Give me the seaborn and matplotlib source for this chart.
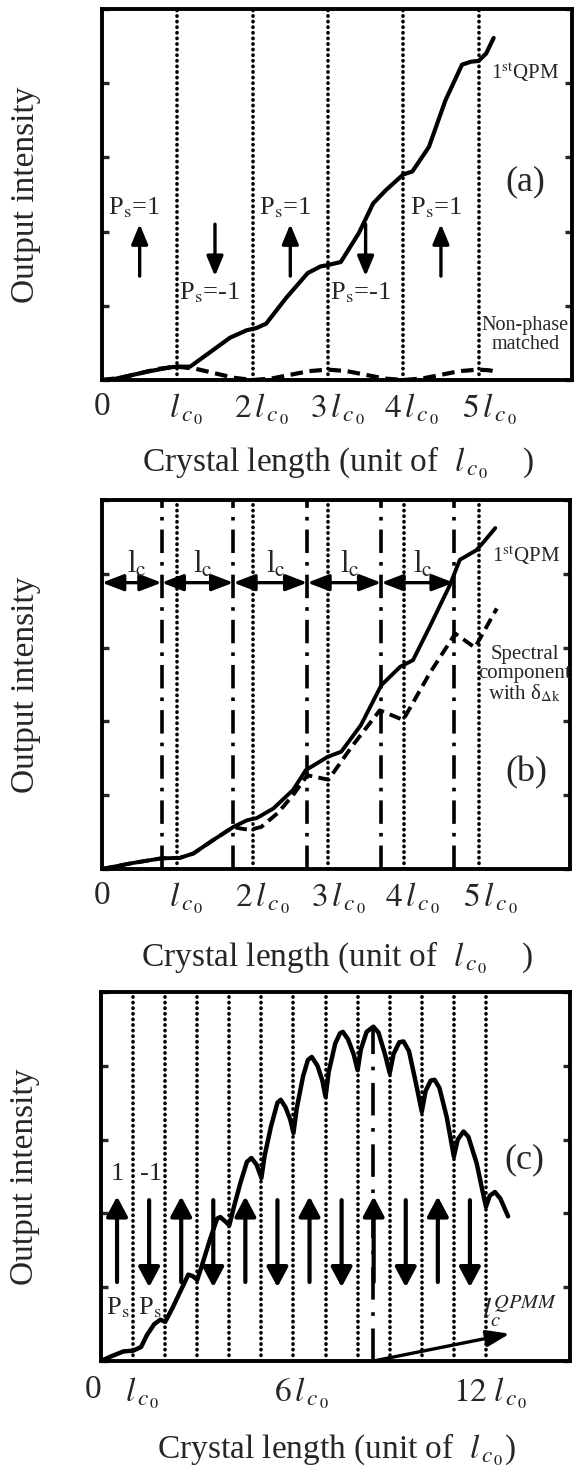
import matplotlib
matplotlib.use('Agg')

import numpy as np
import pandas as pd
import matplotlib.pyplot as plt
import seaborn as sns

# ----------------------------------------------------------------------
# style
# ----------------------------------------------------------------------
sns.set_style('white')
plt.rcParams['font.family'] = ['Liberation Serif', 'DejaVu Serif']
plt.rcParams['mathtext.fontset'] = 'stix'

# ----------------------------------------------------------------------
# data, x in units of l_c0, y in (unlabelled) tick units
# ----------------------------------------------------------------------

# (a) first order QPM vs non phase matched
a_x = [0, 0.15, 0.59, 0.9, 1.0, 1.17, 1.47, 1.70, 1.92, 2.05, 2.18, 2.44, 2.73, 2.9,
       3.0, 3.17, 3.41, 3.6, 3.77, 4.0, 4.12, 4.34, 4.56, 4.78, 4.9, 5.0, 5.1, 5.2]
a_qpm = [0, 0.01, 0.11, 0.17, 0.18, 0.18, 0.40, 0.57, 0.67, 0.70, 0.76, 1.10, 1.44, 1.53,
         1.55, 1.59, 1.98, 2.38, 2.56, 2.77, 2.81, 3.14, 3.77, 4.25, 4.29, 4.30, 4.40, 4.61]
a_npm_x = [0, 0.25, 0.5, 0.75, 1.0, 1.25, 1.5, 1.75, 2.0, 2.25, 2.5, 2.75, 3.0, 3.25,
           3.5, 3.75, 4.0, 4.25, 4.5, 4.75, 5.0, 5.15, 5.23]
a_npm = [0, 0.03, 0.09, 0.15, 0.18, 0.15, 0.09, 0.03, 0, 0.02, 0.07, 0.12, 0.14, 0.12,
         0.07, 0.02, 0, 0.02, 0.07, 0.12, 0.14, 0.13, 0.11]
a_walls = [1, 2, 3, 4, 5]
a_ps = [1, -1, 1, -1, 1]

# (b) QPM vs spectral component with delta_k
b_x = [0, 0.15, 0.4, 0.79, 1.03, 1.21, 1.47, 1.74, 1.92, 2.05, 2.27, 2.53, 2.70, 2.99,
       3.17, 3.43, 3.70, 3.95, 4.12, 4.34, 4.61, 4.74, 4.96, 5.08, 5.21]
b_qpm = [0, 0.03, 0.08, 0.145, 0.15, 0.21, 0.39, 0.57, 0.66, 0.69, 0.82, 1.07, 1.34, 1.52,
         1.59, 1.95, 2.49, 2.74, 2.83, 3.28, 3.85, 4.19, 4.32, 4.46, 4.62]
b_delta_x = [0, 0.15, 0.4, 0.79, 1.03, 1.21, 1.47, 1.74, 1.83, 1.96, 2.11, 2.33, 2.53,
             2.72, 3.0, 3.31, 3.68, 3.99, 4.34, 4.68, 4.94, 5.23]
b_delta = [0, 0.03, 0.08, 0.145, 0.15, 0.21, 0.39, 0.57, 0.55, 0.53, 0.57, 0.76, 1.0,
           1.27, 1.21, 1.66, 2.15, 2.02, 2.65, 3.19, 3.00, 3.53]
b_walls = [1, 2, 3, 4, 5]
b_lc = [0.79, 1.74, 2.72, 3.70, 4.66]

# (c) quasi phase mismatched
c_x = [0, 0.3, 0.7, 1.0, 1.25, 1.43, 1.66, 1.85, 2.0, 2.23, 2.47, 2.72, 2.86, 3.0,
       3.15, 3.4, 3.62, 3.72, 3.85, 4.0, 4.15, 4.35, 4.55, 4.69, 4.85, 5.0, 5.1, 5.3,
       5.5, 5.6, 5.75, 5.9, 6.0, 6.1, 6.3, 6.45, 6.57, 6.75, 6.9, 7.0, 7.1, 7.3, 7.45,
       7.54, 7.7, 7.88, 8.0, 8.1, 8.28, 8.49, 8.65, 8.85, 9.0, 9.12, 9.3, 9.43, 9.6,
       9.8, 10.0, 10.12, 10.28, 10.4, 10.55, 10.78, 11.0, 11.12, 11.3, 11.45, 11.71,
       11.88, 12.0, 12.12, 12.28, 12.45, 12.69]
c_y = [0, 0.06, 0.13, 0.14, 0.19, 0.35, 0.50, 0.56, 0.53, 0.72, 0.94, 1.17, 1.15, 1.10,
       1.30, 1.65, 1.93, 1.95, 1.90, 1.84, 2.10, 2.42, 2.70, 2.75, 2.66, 2.48, 2.78, 3.18,
       3.50, 3.54, 3.44, 3.27, 3.09, 3.42, 3.86, 4.08, 4.12, 4.00, 3.80, 3.58, 3.92, 4.30,
       4.44, 4.46, 4.36, 4.15, 3.94, 4.22, 4.46, 4.53, 4.45, 4.16, 3.90, 4.16, 4.32,
       4.33, 4.20, 3.80, 3.38, 3.66, 3.80, 3.81, 3.70, 3.30, 2.77, 3.00, 3.11, 3.04,
       2.68, 2.33, 2.09, 2.24, 2.29, 2.20, 1.96]
c_walls = [1, 2, 3, 4, 5, 6, 7, 8, 9, 10, 11, 12]
c_ps = [1, -1, 1, -1, 1, -1, 1, -1, 1, -1, 1, -1]
lc_qpmm = 8.49

df_a = pd.DataFrame({'x': a_x, 'y': a_qpm})
df_a2 = pd.DataFrame({'x': a_npm_x, 'y': a_npm})
df_b = pd.DataFrame({'x': b_x, 'y': b_qpm})
df_b2 = pd.DataFrame({'x': b_delta_x, 'y': b_delta})
df_c = pd.DataFrame({'x': c_x, 'y': c_y})

# ----------------------------------------------------------------------
# figure
# ----------------------------------------------------------------------
W, H = 575, 1471
fig = plt.figure(figsize=(W / 100, H / 100), dpi=100)
ax_a = fig.add_axes([102 / W, 1 - 380 / H, 470 / W, 371 / H])
ax_b = fig.add_axes([102 / W, 1 - 869 / H, 468 / W, 369 / H])
ax_c = fig.add_axes([101 / W, 1 - 1361 / H, 469 / W, 369 / H])

dotted = dict(color='black', lw=2.6, ls=(0, (0.1, 1.45)), dash_capstyle='round')
curve = dict(color='black', sort=False, estimator=None,
             solid_joinstyle='round', solid_capstyle='round')
lsub = '$l_{\\,c_{\\,0}}$'
xl_text = 'Crystal length (unit of  ' + lsub + '    )'


def frame(ax, xmax):
    ax.set_xlim(0, xmax)
    ax.set_ylim(0, 5)
    for sp in ax.spines.values():
        sp.set_linewidth(2.8)
        sp.set_color('black')
    ax.set_yticks([0, 1, 2, 3, 4, 5])
    ax.tick_params(axis='y', direction='in', length=5, width=2.4,
                   left=True, right=True, labelleft=False)
    ax.tick_params(axis='x', length=0, pad=8, labelsize=24)
    ax.set_ylabel('Output intensity', fontsize=24, va='center')
    ax.yaxis.set_label_coords(-0.162, 0.5)


def pol_arrow(ax, x, sign, lo, hi, hw, lw):
    tail, tip = (lo, hi) if sign > 0 else (hi, lo)
    ax.annotate('', xy=(x, tip), xytext=(x, tail),
                arrowprops=dict(arrowstyle='-|>,head_length=0.6,head_width=%s' % hw,
                                lw=lw, color='black', mutation_scale=20,
                                shrinkA=0, shrinkB=0))


lc_labels = ['0', lsub, '$2\\,$' + lsub, '$3\\,$' + lsub, '$4\\,$' + lsub, '$5\\,$' + lsub]
lc_pos = [0, 1.12, 2.12, 3.13, 4.11, 5.15]

# ---------------------------- (a) ------------------------------------
ax = ax_a
frame(ax, 6.24)
for w in a_walls:
    ax.axvline(w, **dotted)
sns.lineplot(data=df_a, x='x', y='y', ax=ax, lw=3.0, **curve)
sns.lineplot(data=df_a2, x='x', y='y', ax=ax, lw=3.0, ls=(0, (3, 1.6)), **curve)
for i, s in enumerate(a_ps):
    pol_arrow(ax, i + 0.5, s, 1.40, 2.10, 0.25, 2.4)
    if s > 0:
        ax.text(i + 0.43, 2.32, 'P$_{\\rm s}$=1', fontsize=19, ha='center', va='center')
    else:
        ax.text(i + 0.43, 1.17, 'P$_{\\rm s}$=-1', fontsize=19, ha='center', va='center')
ax.text(5.62, 4.15, '1$^{\\rm st}$QPM', fontsize=15, ha='center', va='center')
ax.text(5.62, 2.67, '(a)', fontsize=26, ha='center', va='center')
ax.text(5.62, 0.60, 'Non-phase\nmatched', fontsize=14.5, ha='center', va='center',
        linespacing=1.0)
ax.set_xticks(lc_pos)
ax.set_xticklabels(lc_labels)
ax.set_xlabel(xl_text, fontsize=24, va='center')
ax.xaxis.set_label_coords(0.503, -0.224)

# ---------------------------- (b) ------------------------------------
ax = ax_b
frame(ax, 6.2)
for w in b_walls:
    ax.axvline(w, **dotted)
for w in b_lc:
    ax.axvline(w, color='black', lw=2.6, ls=(0, (6.5, 2.5, 1, 2.5)))
sns.lineplot(data=df_b, x='x', y='y', ax=ax, lw=2.8, **curve)
sns.lineplot(data=df_b2, x='x', y='y', ax=ax, lw=2.8, ls=(0, (3, 1.6)), **curve)
edges = [0] + b_lc
for x0, x1 in zip(edges[:-1], edges[1:]):
    ax.annotate('', xy=(x1, 3.88), xytext=(x0, 3.88),
                arrowprops=dict(arrowstyle='<|-|>,head_length=0.65,head_width=0.25',
                                lw=2.4, color='black', mutation_scale=20,
                                shrinkA=0, shrinkB=0))
    ax.text((x0 + x1) / 2 + 0.07, 4.12, 'l$_{\\rm c}$', fontsize=22,
            ha='center', va='center')
ax.text(5.62, 4.25, '1$^{\\rm st}$QPM', fontsize=15, ha='center', va='center')
ax.text(5.6, 2.63, 'Spectral\ncomponent\nwith δ$_{\\Delta \\rm k}$', fontsize=15,
        ha='center', va='center', linespacing=1.0)
ax.text(5.62, 1.30, '(b)', fontsize=26, ha='center', va='center')
ax.set_xticks(lc_pos)
ax.set_xticklabels(lc_labels)
ax.set_xlabel(xl_text, fontsize=24, va='center')
ax.xaxis.set_label_coords(0.503, -0.241)

# ---------------------------- (c) ------------------------------------
ax = ax_c
frame(ax, 14.62)
for w in c_walls:
    ax.axvline(w, **dotted)
ax.vlines(lc_qpmm, 0, max(c_y), color='black', lw=2.6,
          linestyles=[(0, (9, 3.5, 1, 3.5))])
sns.lineplot(data=df_c, x='x', y='y', ax=ax, lw=3.2, **curve)
for i, s in enumerate(c_ps):
    if s > 0:
        pol_arrow(ax, i + 0.5, s, 1.07, 2.23, 0.32, 3.0)
    else:
        pol_arrow(ax, i + 0.5, s, 1.0, 2.18, 0.32, 3.0)
ax.text(0.52, 2.54, '1', fontsize=19, ha='center', va='center')
ax.text(1.55, 2.54, '-1', fontsize=19, ha='center', va='center')
ax.text(0.52, 0.72, 'P$_{\\rm s}$', fontsize=19, ha='center', va='center')
ax.text(1.52, 0.72, 'P$_{\\rm s}$', fontsize=19, ha='center', va='center')
ax.annotate('', xy=(12.74, 0.37), xytext=(lc_qpmm, 0),
            arrowprops=dict(arrowstyle='-|>,head_length=0.7,head_width=0.25',
                            lw=2.4, color='black', mutation_scale=20,
                            shrinkA=0, shrinkB=0))
ax.text(13.05, 0.68, '$l_c^{QPMM}$', fontsize=21, ha='center', va='center')
ax.text(13.2, 2.72, '(c)', fontsize=26, ha='center', va='center')
ax.set_xticks([0, 1.29, 6.26, 12.13])
ax.set_xticklabels(['0', lsub, '$6\\,$' + lsub, '$12\\;$' + lsub])
ax.get_xticklabels()[0].set_ha('right')
ax.tick_params(axis='x', pad=10)
ax.set_xlabel('Crystal length (unit of  ' + lsub + ')', fontsize=24, va='center')
ax.xaxis.set_label_coords(0.503, -0.241)

fig.savefig('out.png', dpi=100)
